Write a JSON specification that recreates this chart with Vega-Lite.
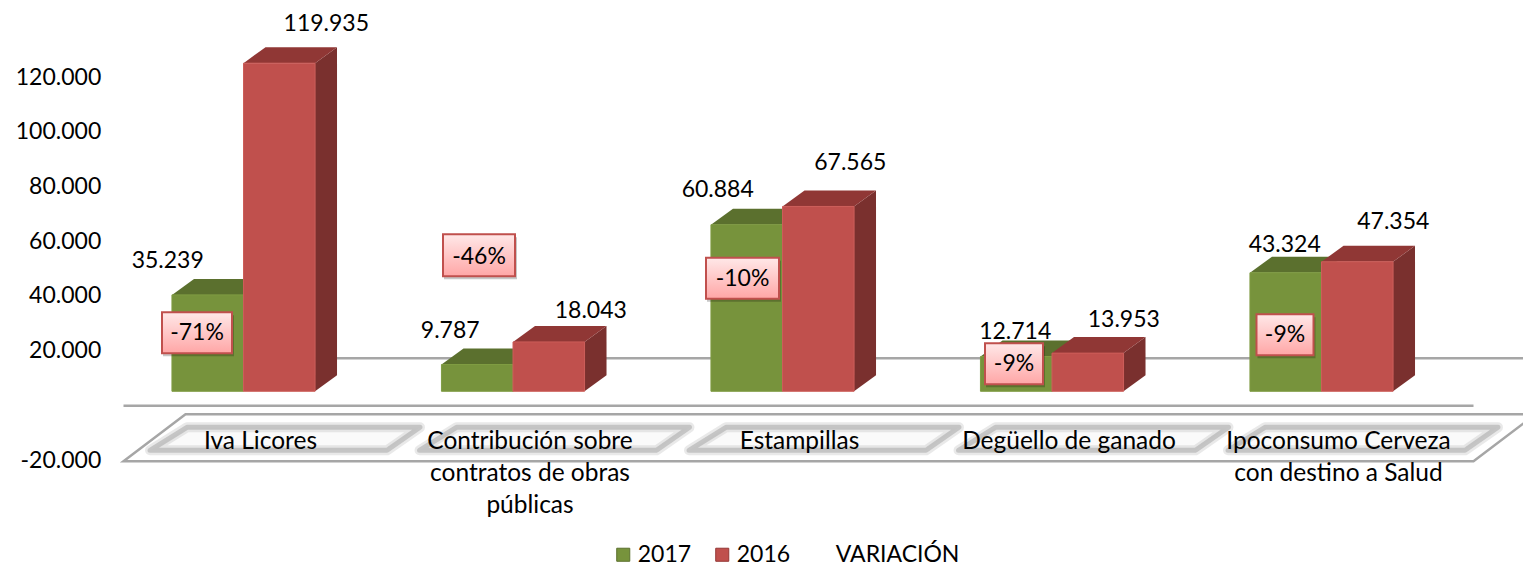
{"$schema":"https://vega.github.io/schema/vega-lite/v6.json","width":1347.5,"height":383,"autosize":"none","padding":{"left":108.75,"top":77,"right":66.75,"bottom":106},"background":"white","config":{"view":{"stroke":null},"text":{"font":"Lato","fontSize":23,"color":"#000000"}},"resolve":{"scale":{"shape":"independent"}},"data":{"values":[{"categoria":"Iva Licores","serie":"2017","valor":35239,"etiqueta":"35.239"},{"categoria":"Iva Licores","serie":"2016","valor":119935,"etiqueta":"119.935","variacion":"-71%"},{"categoria":"Contribución sobre contratos de obras públicas","serie":"2017","valor":9787,"etiqueta":"9.787"},{"categoria":"Contribución sobre contratos de obras públicas","serie":"2016","valor":18043,"etiqueta":"18.043","variacion":"-46%"},{"categoria":"Estampillas","serie":"2017","valor":60884,"etiqueta":"60.884"},{"categoria":"Estampillas","serie":"2016","valor":67565,"etiqueta":"67.565","variacion":"-10%"},{"categoria":"Degüello de ganado","serie":"2017","valor":12714,"etiqueta":"12.714"},{"categoria":"Degüello de ganado","serie":"2016","valor":13953,"etiqueta":"13.953","variacion":"-9%"},{"categoria":"Ipoconsumo Cerveza con destino a Salud","serie":"2017","valor":43324,"etiqueta":"43.324"},{"categoria":"Ipoconsumo Cerveza con destino a Salud","serie":"2016","valor":47354,"etiqueta":"47.354","variacion":"-9%"}]},"encoding":{"x":{"field":"categoria","type":"nominal","sort":null,"title":null,"scale":{"domain":["Iva Licores","Contribución sobre contratos de obras públicas","Estampillas","Degüello de ganado","Ipoconsumo Cerveza con destino a Salud"],"paddingInner":0.469,"paddingOuter":0.2345},"axis":{"domain":false,"ticks":false,"grid":false,"labelAngle":0,"labelFont":"Lato","labelFontSize":24.5,"labelColor":"#000000","labelOffset":17,"labelPadding":-31,"labelBaseline":"top","labelLimit":0,"labelOverlap":false,"labelLineHeight":32,"zindex":1,"labelExpr":"datum.label=='Contribución sobre contratos de obras públicas'?['Contribución sobre','contratos de obras','públicas']:datum.label=='Ipoconsumo Cerveza con destino a Salud'?['Ipoconsumo Cerveza','con destino a Salud']:datum.label"}},"y":{"field":"valor","type":"quantitative","title":null,"scale":{"domain":[-20000,120000],"nice":false,"zero":false},"axis":{"domain":false,"ticks":false,"grid":false,"values":[-20000,20000,40000,60000,80000,100000,120000],"labelFont":"Lato","labelFontSize":23,"labelColor":"#000000","labelPadding":8,"labelExpr":"replace(replace(format(datum.value,',d'),',','.'),'−','-')"}}},"layer":[{"transform":[{"filter":"datum.serie=='2016' && datum.categoria=='Estampillas'"}],"mark":{"type":"point","filled":false,"size":4,"stroke":"#a6a6a6","strokeWidth":2.5,"opacity":1,"shape":"M-597,-47 L750,-47"},"encoding":{"y":{"datum":0,"type":"quantitative"}}},{"transform":[{"filter":"datum.serie=='2016' && datum.categoria=='Estampillas'"}],"mark":{"type":"point","filled":false,"size":4,"stroke":"#a6a6a6","strokeWidth":2.5,"opacity":1,"shape":"M-659,0.5 L691,0.5"},"encoding":{"y":{"datum":0,"type":"quantitative"}}},{"transform":[{"filter":"datum.serie=='2016' && datum.categoria=='Estampillas'"}],"mark":{"type":"point","filled":true,"size":4,"fill":"#ffffff","stroke":"#a6a6a6","strokeWidth":2.5,"opacity":1,"shape":"M-659,56 L-597,9 L753,9 L691,56 Z"},"encoding":{"y":{"datum":0,"type":"quantitative"}}},{"transform":[{"filter":"datum.serie=='2016'"}],"mark":{"type":"point","filled":true,"size":4,"fill":"#fafafa","stroke":"#b5b5b5","strokeOpacity":0.3,"strokeWidth":10,"opacity":1,"strokeJoin":"round","shape":"M-93.5,45 L-56.5,22 L176.5,22 L143.5,45 Z"},"encoding":{"y":{"datum":0,"type":"quantitative"}}},{"transform":[{"filter":"datum.serie=='2016'"}],"mark":{"type":"point","filled":false,"size":4,"stroke":"#a8a8a8","strokeOpacity":0.55,"strokeWidth":5,"opacity":1,"strokeJoin":"round","shape":"M-93.5,45 L-56.5,22 L176.5,22 L143.5,45 Z"},"encoding":{"y":{"datum":0,"type":"quantitative"}}},{"transform":[{"filter":"datum.serie=='2017'"}],"mark":{"type":"point","filled":true,"size":4,"fill":"#5b702e","stroke":null,"opacity":1,"shape":"M-35.75,-14 L-13.75,-30 L57.75,-30 L35.75,-14 Z"},"encoding":{"xOffset":{"field":"serie","scale":{"domain":["2017","2016"],"paddingInner":0,"paddingOuter":0}}}},{"transform":[{"filter":"datum.serie=='2017'"}],"mark":{"type":"bar","yOffset":-14,"y2Offset":-14},"encoding":{"y2":{"datum":0},"xOffset":{"field":"serie"},"fill":{"field":"serie","title":null,"scale":{"domain":["2017","2016","VARIACIÓN"],"range":["#77933c","#c0504d","transparent"]},"legend":{"orient":"none","legendX":503,"legendY":466,"direction":"horizontal","columns":3,"symbolType":"square","symbolSize":170,"symbolStrokeWidth":1,"labelFont":"Lato","labelFontSize":23,"labelColor":"#000000","labelOffset":3,"columnPadding":19,"title":null,"encode":{"symbols":{"update":{"stroke":{"signal":"datum.value=='VARIACIÓN'?'transparent':datum.value=='2017'?'#5b702e':'#953735'"},"fill":[{"test":"datum.value=='2017'","value":{"gradient":"linear","x1":0,"y1":0,"x2":0,"y2":1,"stops":[{"offset":0,"color":"#a9c86a"},{"offset":1,"color":"#5f7530"}]}},{"test":"datum.value=='2016'","value":{"gradient":"linear","x1":0,"y1":0,"x2":0,"y2":1,"stops":[{"offset":0,"color":"#f08a86"},{"offset":1,"color":"#943735"}]}},{"value":"transparent"}]}}}}}}},{"transform":[{"filter":"datum.serie=='2017'"}],"mark":{"type":"bar","yOffset":-14,"y2Offset":-14,"fill":"transparent","stroke":"#7f9c42","strokeWidth":1},"encoding":{"y2":{"datum":0},"xOffset":{"field":"serie"}}},{"transform":[{"filter":"datum.serie=='2016'"}],"mark":{"type":"point","filled":true,"size":4,"stroke":null,"opacity":1},"encoding":{"xOffset":{"field":"serie"},"fill":{"value":"#7a302e"},"shape":{"field":"categoria","legend":null,"scale":{"domain":["Iva Licores","Contribución sobre contratos de obras públicas","Estampillas","Degüello de ganado","Ipoconsumo Cerveza con destino a Salud"],"range":["M35.75,-14 L57.75,-30 L57.75,298.1 L35.75,314.1 Z","M35.75,-14 L57.75,-30 L57.75,19.4 L35.75,35.4 Z","M35.75,-14 L57.75,-30 L57.75,154.8 L35.75,170.8 Z","M35.75,-14 L57.75,-30 L57.75,8.2 L35.75,24.2 Z","M35.75,-14 L57.75,-30 L57.75,99.5 L35.75,115.5 Z"]}}}},{"transform":[{"filter":"datum.serie=='2016'"}],"mark":{"type":"point","filled":true,"size":4,"fill":"#903735","stroke":null,"opacity":1,"shape":"M-35.75,-14 L-13.75,-30 L57.75,-30 L35.75,-14 Z"},"encoding":{"xOffset":{"field":"serie"}}},{"transform":[{"filter":"datum.serie=='2016'"}],"mark":{"type":"bar","yOffset":-14,"y2Offset":-14},"encoding":{"y2":{"datum":0},"xOffset":{"field":"serie"},"fill":{"field":"serie"}}},{"transform":[{"filter":"datum.serie=='2016'"}],"mark":{"type":"bar","yOffset":-14,"y2Offset":-14,"fill":"transparent","stroke":"#cc5d59","strokeWidth":1},"encoding":{"y2":{"datum":0},"xOffset":{"field":"serie"}}},{"transform":[{"filter":"datum.etiqueta=='35.239'"}],"mark":{"type":"text","dx":-40,"dy":-47.6},"encoding":{"xOffset":{"field":"serie"},"text":{"field":"etiqueta"}}},{"transform":[{"filter":"datum.etiqueta=='119.935'"}],"mark":{"type":"text","dx":47,"dy":-53},"encoding":{"xOffset":{"field":"serie"},"text":{"field":"etiqueta"}}},{"transform":[{"filter":"datum.etiqueta=='9.787'"}],"mark":{"type":"text","dx":-27,"dy":-48},"encoding":{"xOffset":{"field":"serie"},"text":{"field":"etiqueta"}}},{"transform":[{"filter":"datum.etiqueta=='18.043'"}],"mark":{"type":"text","dx":42,"dy":-44.6},"encoding":{"xOffset":{"field":"serie"},"text":{"field":"etiqueta"}}},{"transform":[{"filter":"datum.etiqueta=='60.884'"}],"mark":{"type":"text","dx":-29,"dy":-48.4},"encoding":{"xOffset":{"field":"serie"},"text":{"field":"etiqueta"}}},{"transform":[{"filter":"datum.etiqueta=='67.565'"}],"mark":{"type":"text","dx":32,"dy":-57},"encoding":{"xOffset":{"field":"serie"},"text":{"field":"etiqueta"}}},{"transform":[{"filter":"datum.etiqueta=='12.714'"}],"mark":{"type":"text","dx":-1,"dy":-39},"encoding":{"xOffset":{"field":"serie"},"text":{"field":"etiqueta"}}},{"transform":[{"filter":"datum.etiqueta=='13.953'"}],"mark":{"type":"text","dx":36,"dy":-47},"encoding":{"xOffset":{"field":"serie"},"text":{"field":"etiqueta"}}},{"transform":[{"filter":"datum.etiqueta=='43.324'"}],"mark":{"type":"text","dx":-1,"dy":-41.5},"encoding":{"xOffset":{"field":"serie"},"text":{"field":"etiqueta"}}},{"transform":[{"filter":"datum.etiqueta=='47.354'"}],"mark":{"type":"text","dx":36,"dy":-53.5},"encoding":{"xOffset":{"field":"serie"},"text":{"field":"etiqueta"}}},{"transform":[{"filter":"datum.serie=='2016'"}],"mark":{"type":"point","filled":true,"size":4,"fill":"#000000","fillOpacity":0.22,"stroke":null,"opacity":1},"encoding":{"y":{"datum":0,"type":"quantitative"},"shape":{"field":"categoria","legend":null,"scale":{"domain":["Iva Licores","Contribución sobre contratos de obras públicas","Estampillas","Degüello de ganado","Ipoconsumo Cerveza con destino a Salud"],"range":["M-80.5,-90 L-9.5,-90 L-9.5,-49 L-80.5,-49 Z","M-69,-168 L4,-168 L4,-126 L-69,-126 Z","M-75.5,-144.5 L-1.5,-144.5 L-1.5,-103.5 L-75.5,-103.5 Z","M-66,-59 L-7,-59 L-7,-18 L-66,-18 Z","M-64,-88 L-6,-88 L-6,-47 L-64,-47 Z"]}}}},{"transform":[{"filter":"datum.serie=='2016'"}],"mark":{"type":"point","filled":true,"size":4,"opacity":1,"fill":{"gradient":"linear","x1":0,"y1":0,"x2":0,"y2":1,"stops":[{"offset":0,"color":"#ffe8e8"},{"offset":1,"color":"#ffa6a6"}]},"stroke":"#c0504d","strokeWidth":2},"encoding":{"y":{"datum":0,"type":"quantitative"},"shape":{"field":"categoria","legend":null,"scale":{"domain":["Iva Licores","Contribución sobre contratos de obras públicas","Estampillas","Degüello de ganado","Ipoconsumo Cerveza con destino a Salud"],"range":["M-81.5,-93 L-11.5,-93 L-11.5,-52 L-81.5,-52 Z","M-70,-171 L2,-171 L2,-129 L-70,-129 Z","M-76.5,-147.5 L-3.5,-147.5 L-3.5,-106.5 L-76.5,-106.5 Z","M-67,-62 L-9,-62 L-9,-21 L-67,-21 Z","M-65,-91 L-8,-91 L-8,-50 L-65,-50 Z"]}}}},{"transform":[{"filter":"datum.variacion=='-71%'"}],"mark":{"type":"text","dx":-46.5,"dy":-72},"encoding":{"y":{"datum":0,"type":"quantitative"},"text":{"field":"variacion"}}},{"transform":[{"filter":"datum.variacion=='-46%'"}],"mark":{"type":"text","dx":-34,"dy":-148},"encoding":{"y":{"datum":0,"type":"quantitative"},"text":{"field":"variacion"}}},{"transform":[{"filter":"datum.variacion=='-10%'"}],"mark":{"type":"text","dx":-40,"dy":-126},"encoding":{"y":{"datum":0,"type":"quantitative"},"text":{"field":"variacion"}}},{"transform":[{"filter":"datum.variacion=='-9%' && datum.categoria=='Degüello de ganado'"}],"mark":{"type":"text","dx":-38,"dy":-41},"encoding":{"y":{"datum":0,"type":"quantitative"},"text":{"field":"variacion"}}},{"transform":[{"filter":"datum.variacion=='-9%' && datum.categoria!='Degüello de ganado'"}],"mark":{"type":"text","dx":-36.5,"dy":-70},"encoding":{"y":{"datum":0,"type":"quantitative"},"text":{"field":"variacion"}}}]}
